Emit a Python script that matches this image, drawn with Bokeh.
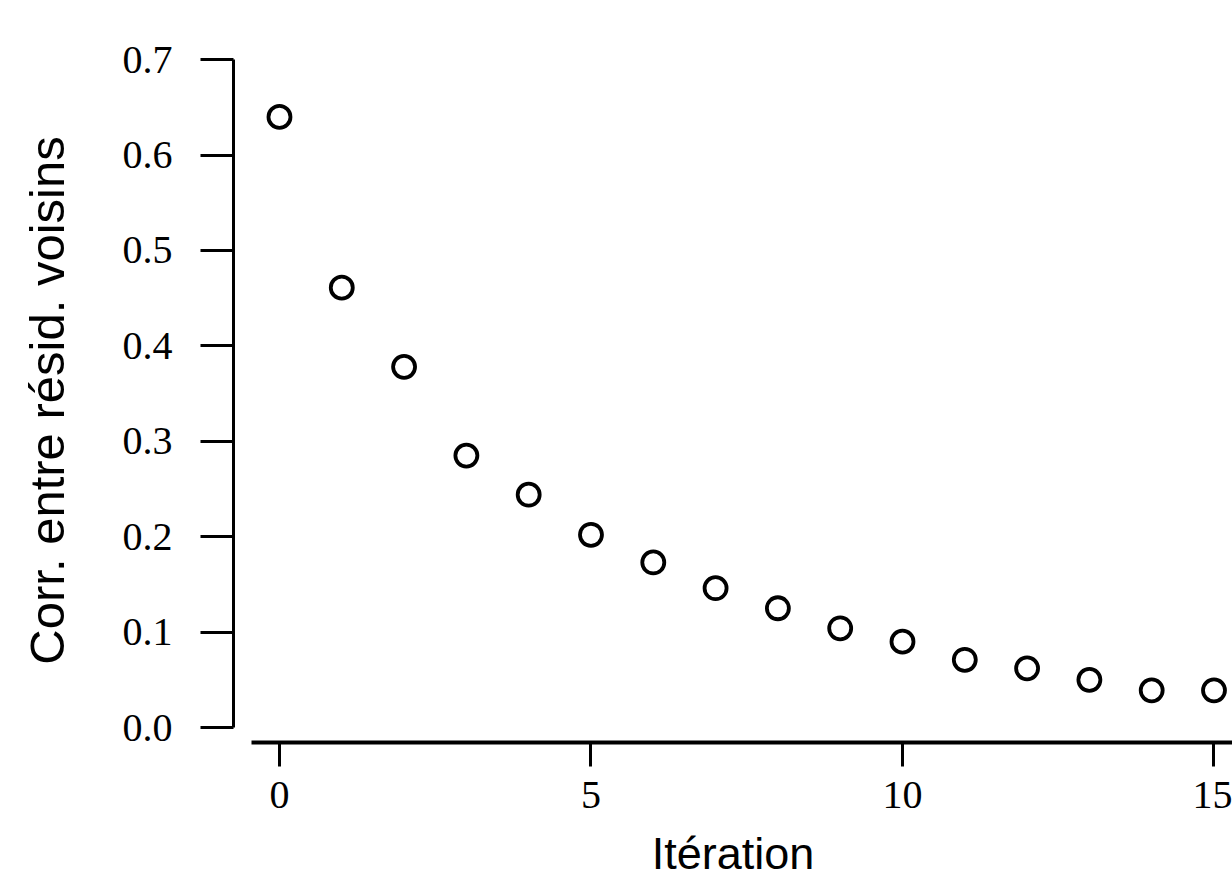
from bokeh.plotting import figure
from bokeh.models import FixedTicker, Range1d, PrintfTickFormatter
from bokeh.embed import file_html
from bokeh.resources import INLINE

# Data
iterations = list(range(16))
corr = [0.640, 0.461, 0.378, 0.285, 0.244, 0.202, 0.173, 0.146,
        0.125, 0.104, 0.090, 0.071, 0.062, 0.050, 0.039, 0.039]

x_ticks = [0, 5, 10, 15]
y_ticks = [0.0, 0.1, 0.2, 0.3, 0.4, 0.5, 0.6, 0.7]

x_title = "Itération"
y_title = "Corr. entre résid. voisins"

p = figure(width=1232, height=883, output_backend="svg", toolbar_location=None,
           x_range=Range1d(-0.738, 15.297), y_range=Range1d(-0.0157, 0.7012),
           min_border_left=233, min_border_bottom=141,
           min_border_right=0, min_border_top=58)
p.outline_line_color = None
p.grid.visible = False
p.background_fill_color = "white"

p.scatter(iterations, corr, marker="circle", size=22,
          fill_color="white", line_color="black", line_width=3.8)

xa = p.xaxis[0]
xa.ticker = FixedTicker(ticks=x_ticks)
xa.bounds = (-0.45, 16)
xa.axis_line_width = 4
xa.axis_line_color = "black"
xa.major_tick_line_width = 3
xa.major_tick_out = 24
xa.major_tick_in = 0
xa.minor_tick_out = 0
xa.minor_tick_in = 0
xa.major_label_text_font = "Liberation Serif"
xa.major_label_text_font_size = "40px"
xa.major_label_text_color = "black"
xa.major_label_standoff = 15
xa.axis_label = x_title
xa.axis_label_text_font = "Liberation Sans"
xa.axis_label_text_font_size = "45px"
xa.axis_label_text_font_style = "normal"
xa.axis_label_text_color = "black"
xa.axis_label_standoff = 17

ya = p.yaxis[0]
ya.ticker = FixedTicker(ticks=y_ticks)
ya.formatter = PrintfTickFormatter(format="%.1f")
ya.bounds = (0, 0.7)
ya.axis_line_width = 3
ya.axis_line_color = "black"
ya.major_tick_line_width = 3
ya.major_tick_out = 33
ya.major_tick_in = 0
ya.minor_tick_out = 0
ya.minor_tick_in = 0
ya.major_label_text_font = "Liberation Serif"
ya.major_label_text_font_size = "40px"
ya.major_label_text_color = "black"
ya.major_label_standoff = 28
ya.axis_label = y_title
ya.axis_label_text_font = "Liberation Sans"
ya.axis_label_text_font_size = "49px"
ya.axis_label_text_font_style = "normal"
ya.axis_label_text_color = "black"
ya.axis_label_standoff = 46

open("out.html", "w").write(file_html(p, INLINE))
